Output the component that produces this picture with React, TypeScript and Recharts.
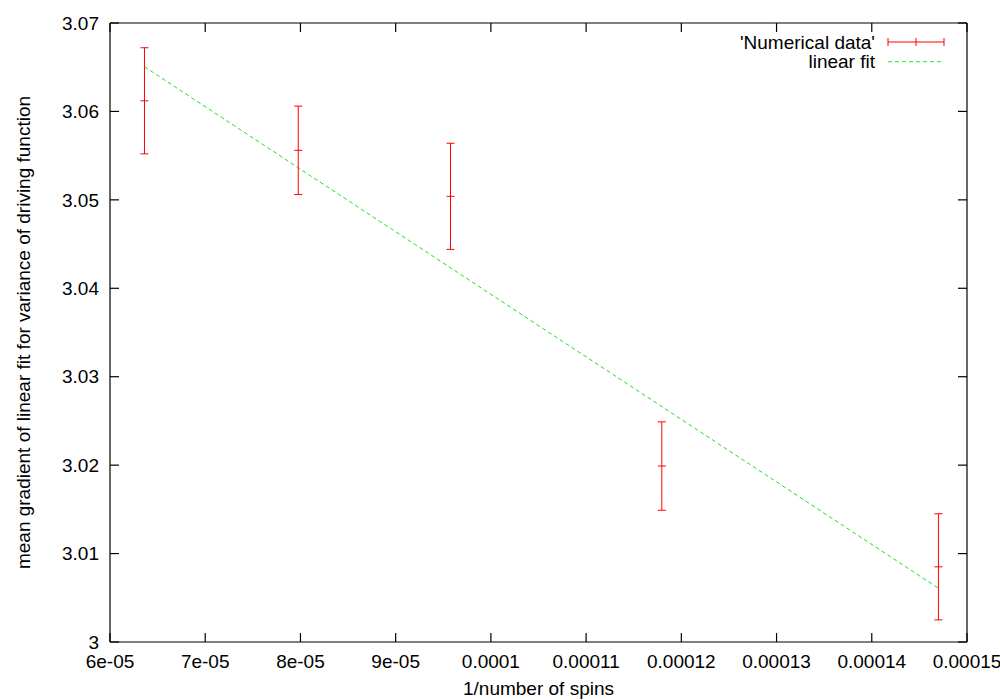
import React from "react";
import { ComposedChart, XAxis, YAxis, Scatter, Line, ErrorBar, Legend } from "recharts";

// 1/number of spins for each run
const spinInverse = [6.362e-5, 7.977e-5, 9.576e-5, 11.795e-5, 14.7e-5];
// mean gradient and its error bar half-height
const meanGradient = [3.0612, 3.0556, 3.0504, 3.0199, 3.0085];
const gradientError = [0.006, 0.005, 0.006, 0.005, 0.006];

// end points of the linear fit
const fitX = [6.362e-5, 14.7e-5];
const fitY = [3.06505, 3.00608];

const xTicks = [6e-5, 7e-5, 8e-5, 9e-5, 1e-4, 1.1e-4, 1.2e-4, 1.3e-4, 1.4e-4, 1.5e-4];
const xTickLabels = ["6e-05", "7e-05", "8e-05", "9e-05", "0.0001", "0.00011", "0.00012", "0.00013", "0.00014", "0.00015"];
const yTicks = [3, 3.01, 3.02, 3.03, 3.04, 3.05, 3.06, 3.07];
const yTickLabels = ["3", "3.01", "3.02", "3.03", "3.04", "3.05", "3.06", "3.07"];

const seriesNames = ["'Numerical data'", "linear fit"];

const RED = "#ff0000";
const GREEN = "#22e022";
const FONT = "'Liberation Sans', Arial, sans-serif";

const points = spinInverse.map((x, i) => ({ x, y: meanGradient[i], err: gradientError[i] }));
const fitLine = fitX.map((x, i) => ({ x, fit: fitY[i] }));

const tickStyle = { fill: "#000", fontSize: 19, fontFamily: FONT };
const axisStroke = { stroke: "#000", strokeWidth: 1.2 };

// mirror axes get tick marks but no labels
const NoLabel = () => <g />;

function CenterMark(props: any) {
  const { cx, cy } = props;
  return <line x1={cx - 4} x2={cx + 4} y1={cy} y2={cy} stroke={RED} strokeWidth={1} />;
}

function GnuplotLegend() {
  return (
    <svg width={300} height={60} style={{ fontFamily: FONT, fontSize: 19 }}>
      <text x={175} y={28.6} textAnchor="end" fill="#000">{seriesNames[0]}</text>
      <line x1={188} x2={244} y1={22} y2={22} stroke={RED} />
      <line x1={188} x2={188} y1={18} y2={26} stroke={RED} />
      <line x1={244} x2={244} y1={18} y2={26} stroke={RED} />
      <line x1={216} x2={216} y1={18} y2={26} stroke={RED} />
      <text x={175} y={48.3} textAnchor="end" fill="#000">{seriesNames[1]}</text>
      <line x1={188} x2={244} y1={41.7} y2={41.7} stroke={GREEN} strokeDasharray="4 3" />
    </svg>
  );
}

function YTitle(props: any) {
  const { viewBox } = props;
  const cy = viewBox.y + viewBox.height / 2;
  const x = 30;
  return (
    <text
      x={x}
      y={cy}
      transform={`rotate(-90 ${x} ${cy})`}
      textAnchor="middle"
      fill="#000"
      style={{ fontFamily: FONT, fontSize: 19 }}
    >
      mean gradient of linear fit for variance of driving function
    </text>
  );
}

export default function App() {
  return (
    <div style={{ position: "absolute", left: 0, top: 0, background: "#fff", fontFamily: FONT }}>
      <ComposedChart width={1000} height={700} margin={{ top: 22, right: 32, bottom: 0, left: 0 }}>
        <XAxis
          xAxisId={0}
          dataKey="x"
          type="number"
          domain={[6e-5, 1.5e-4]}
          ticks={xTicks}
          interval={0}
          tickFormatter={(_v: number, i: number) => xTickLabels[i]}
          tick={tickStyle}
          tickSize={-9}
          tickMargin={22}
          axisLine={axisStroke}
          tickLine={axisStroke}
          height={58}
          allowDataOverflow
          label={{ value: "1/number of spins", position: "insideBottom", offset: 5, fill: "#000", fontSize: 19, fontFamily: FONT }}
        />
        <XAxis
          xAxisId="top"
          dataKey="x"
          type="number"
          orientation="top"
          domain={[6e-5, 1.5e-4]}
          ticks={xTicks}
          interval={0}
          tick={<NoLabel />}
          tickSize={-9}
          axisLine={axisStroke}
          tickLine={axisStroke}
          height={1}
          allowDataOverflow
        />
        <YAxis
          yAxisId={0}
          type="number"
          domain={[3, 3.07]}
          ticks={yTicks}
          interval={0}
          tickFormatter={(_v: number, i: number) => yTickLabels[i]}
          tick={tickStyle}
          tickSize={-9}
          tickMargin={20}
          axisLine={axisStroke}
          tickLine={axisStroke}
          width={110}
          allowDataOverflow
          label={{ content: <YTitle /> }}
        />
        <YAxis
          yAxisId="right"
          type="number"
          orientation="right"
          domain={[3, 3.07]}
          ticks={yTicks}
          interval={0}
          tick={<NoLabel />}
          tickSize={-9}
          axisLine={axisStroke}
          tickLine={axisStroke}
          width={1}
          allowDataOverflow
        />
        <Legend
          layout="vertical"
          align="center"
          verticalAlign="middle"
          content={<GnuplotLegend />}
          wrapperStyle={{ left: 700, top: 20, width: 300, height: 60 }}
        />
        <Line
          data={fitLine}
          dataKey="fit"
          xAxisId="top"
          yAxisId="right"
          stroke={GREEN}
          strokeWidth={1}
          strokeDasharray="4 3"
          dot={false}
          activeDot={false}
          isAnimationActive={false}
        />
        <Scatter data={points} dataKey="y" shape={<CenterMark />} isAnimationActive={false}>
          <ErrorBar dataKey="err" direction="y" width={4} stroke={RED} strokeWidth={1} isAnimationActive={false} />
        </Scatter>
      </ComposedChart>
    </div>
  );
}
